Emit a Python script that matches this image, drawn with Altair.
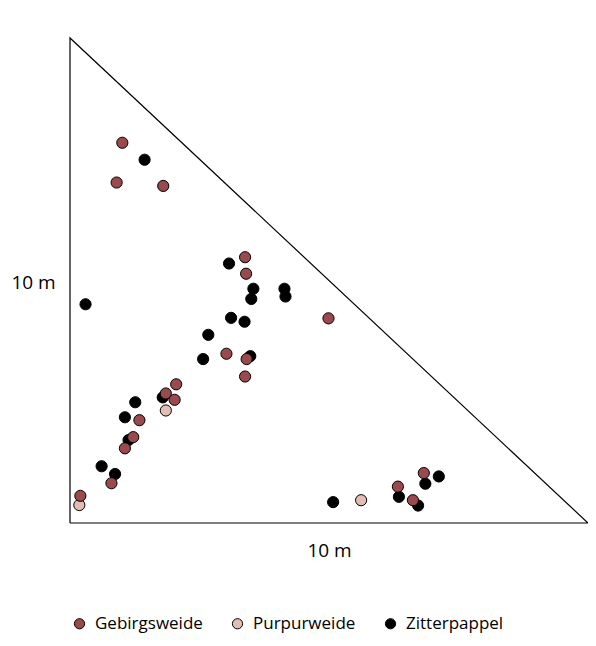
import altair as alt
import pandas as pd

# Points (metres within a 10 m x 10 m right triangle)
zitter_x = [1.44, 3.07, 3.54, 3.50, 4.14, 4.16, 0.30, 3.11, 3.37, 2.67, 2.57, 3.48,
            1.79, 1.26, 1.06, 1.13, 0.61, 0.87, 5.08, 6.35, 6.72, 6.86, 7.12]
zitter_y = [7.49, 5.35, 4.83, 4.62, 4.83, 4.67, 4.51, 4.23, 4.15, 3.88, 3.38, 3.44,
            2.59, 2.49, 2.18, 1.71, 1.17, 1.01, 0.43, 0.54, 0.36, 0.81, 0.96]
purpur_x = [1.85, 0.18, 5.62]
purpur_y = [2.32, 0.37, 0.47]
gebirg_x = [1.01, 0.90, 1.80, 3.38, 3.40, 4.99, 3.02, 3.41, 3.38, 2.05, 1.85, 2.02,
            1.34, 1.22, 1.06, 0.80, 0.20, 6.33, 6.62, 6.83]
gebirg_y = [7.84, 7.02, 6.95, 5.48, 5.14, 4.22, 3.49, 3.38, 3.02, 2.86, 2.67, 2.54,
            2.12, 1.77, 1.54, 0.82, 0.56, 0.75, 0.47, 1.03]

species = ["Gebirgsweide", "Purpurweide", "Zitterpappel"]
colors = ["#9a4a4c", "#e2bdb4", "#000000"]

tri_x = [0, 0, 10, 0]
tri_y = [0, 10, 0, 0]

rows = []
for x, y in zip(zitter_x, zitter_y):
    rows.append({"x": x, "y": y, "Art": "Zitterpappel"})
for x, y in zip(purpur_x, purpur_y):
    rows.append({"x": x, "y": y, "Art": "Purpurweide"})
for x, y in zip(gebirg_x, gebirg_y):
    rows.append({"x": x, "y": y, "Art": "Gebirgsweide"})
pts = pd.DataFrame(rows)
pts["o"] = range(len(pts))

tri = pd.DataFrame({"x": tri_x, "y": tri_y, "o": range(len(tri_x))})

xs = alt.Scale(domain=[0, 10], nice=False, zero=True)
ys = alt.Scale(domain=[0, 10], nice=False, zero=True)

xax = alt.Axis(title="10 m", grid=False, ticks=False, labels=False, domain=False,
               titleFont="Open Sans", titleFontSize=19, titleFontWeight="normal",
               titleColor="black", titleBaseline="alphabetic", titleY=33,
               titleAlign="center")
yax = alt.Axis(title="10 m", grid=False, ticks=False, labels=False, domain=False,
               titleFont="Open Sans", titleFontSize=19, titleFontWeight="normal",
               titleColor="black", titleAngle=0, titleBaseline="alphabetic",
               titleX=-37, titleY=250, titleAlign="center")

triangle = alt.Chart(tri).mark_line(color="black", strokeWidth=1.2).encode(
    x=alt.X("x:Q", scale=xs, axis=xax),
    y=alt.Y("y:Q", scale=ys, axis=yax),
    order="o:Q",
)

points = alt.Chart(pts).mark_circle(size=125, opacity=1, stroke="black", strokeWidth=1).encode(
    x=alt.X("x:Q", scale=xs),
    y=alt.Y("y:Q", scale=ys),
    color=alt.Color("Art:N", scale=alt.Scale(domain=species, range=colors),
                    legend=alt.Legend(title=None, orient="none", direction="horizontal",
                                      legendX=1, legendY=577, padding=0,
                                      symbolType="circle", symbolSize=105,
                                      symbolStrokeColor="black", symbolStrokeWidth=1,
                                      symbolOpacity=1,
                                      labelFont="Open Sans", labelFontSize=17,
                                      labelColor="black", labelOffset=7,
                                      columnPadding=26)),
    order="o:Q",
)

chart = alt.layer(triangle, points).properties(
    width=518, height=485,
    autosize=alt.AutoSizeParams(type="none"),
    padding={"left": 62, "top": 30, "right": 0, "bottom": 115},
).configure_view(stroke=None).configure_axis(grid=False)

chart.save("out.html", embed_options={"renderer": "svg", "actions": False})
